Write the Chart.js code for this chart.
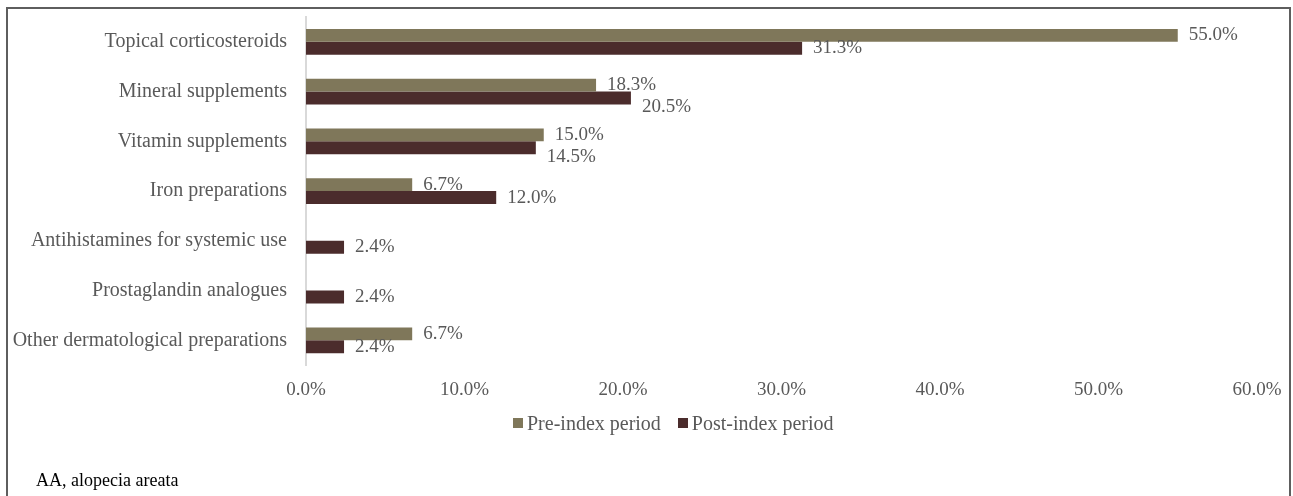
<!DOCTYPE html>
<html>
<head>
<meta charset="utf-8">
<script src="https://cdn.jsdelivr.net/npm/chart.js@4.4.1/dist/chart.umd.min.js"></script>
<style>
  html, body { margin: 0; padding: 0; background: #fff; overflow: hidden; }
  #wrap { position: relative; width: 1293px; height: 496px; }
  #frame {
    position: absolute; left: 6px; top: 7px; width: 1285px; height: 600px;
    border: 2px solid #5e5e5e; box-sizing: border-box;
  }
  #chart { position: absolute; left: 0; top: 0; }
  #legend {
    position: absolute; left: 513px; top: 411px; height: 24px;
    display: flex; align-items: center;
    font: 20px "Liberation Serif", "Times New Roman", serif; color: #595959;
  }
  #legend .item { display: flex; align-items: center; margin-right: 17px; }
  #legend .box { width: 10px; height: 10px; margin-right: 4px; }
  #note {
    position: absolute; left: 36px; top: 470px;
    font: 18px "Liberation Serif", "Times New Roman", serif; color: #000;
  }
</style>
</head>
<body>
<div id="wrap">
  <div id="frame"></div>
  <canvas id="chart" width="1293" height="496"></canvas>
  <div id="legend"></div>
  <div id="note">AA, alopecia areata</div>
</div>
<script>
const categories = [
  'Topical corticosteroids',
  'Mineral supplements',
  'Vitamin supplements',
  'Iron preparations',
  'Antihistamines for systemic use',
  'Prostaglandin analogues',
  'Other dermatological preparations',
];
const preIndex = [55.0, 18.3, 15.0, 6.7, null, null, 6.7];
const postIndex = [31.3, 20.5, 14.5, 12.0, 2.4, 2.4, 2.4];
const xTicks = [0, 10, 20, 30, 40, 50, 60];

const FONT = '"Liberation Serif", "Times New Roman", serif';
const TEXT = '#595959';

// Value labels at the bar ends; post label is nudged down when it would hit the pre label
const valueLabels = {
  id: 'valueLabels',
  afterDatasetsDraw(chart) {
    const ctx = chart.ctx;
    ctx.save();
    ctx.font = '19px ' + FONT;
    ctx.fillStyle = TEXT;
    ctx.textBaseline = 'middle';
    ctx.textAlign = 'left';
    const pre = chart.getDatasetMeta(0).data;
    const post = chart.getDatasetMeta(1).data;
    categories.forEach((c, i) => {
      let preBox = null;
      if (preIndex[i] !== null) {
        const t = preIndex[i].toFixed(1) + '%';
        const x = pre[i].x + 11, y = pre[i].y;
        ctx.fillText(t, x, y);
        preBox = { x0: x, x1: x + ctx.measureText(t).width, y };
      }
      if (postIndex[i] !== null) {
        const t = postIndex[i].toFixed(1) + '%';
        const x = post[i].x + 11;
        let y = post[i].y;
        const w = ctx.measureText(t).width;
        if (preBox && x < preBox.x1 && x + w > preBox.x0 && y - preBox.y < 22) {
          y = preBox.y + 22;
        }
        ctx.fillText(t, x, y);
      }
    });
    ctx.restore();
  },
};

const chart = new Chart(document.getElementById('chart'), {
  type: 'bar',
  data: {
    labels: categories,
    datasets: [
      { label: 'Pre-index period', data: preIndex, backgroundColor: '#7f775a' },
      { label: 'Post-index period', data: postIndex, backgroundColor: '#4b2c2c' },
    ],
  },
  plugins: [valueLabels],
  options: {
    indexAxis: 'y',
    responsive: false,
    animation: false,
    layout: { padding: { top: 17, right: 36, bottom: 90, left: 0 } },
    datasets: { bar: { categoryPercentage: 0.52, barPercentage: 1.0 } },
    plugins: {
      tooltip: { enabled: false },
      legend: { display: false },
    },
    scales: {
      x: {
        min: 0,
        max: 60,
        afterBuildTicks: (scale) => { scale.ticks = xTicks.map(v => ({ value: v })); },
        grid: { display: false },
        border: { display: false },
        ticks: {
          padding: 5,
          color: TEXT,
          font: { family: FONT, size: 19 },
          maxRotation: 0,
          callback: (v) => v.toFixed(1) + '%',
        },
      },
      y: {
        grid: { display: false },
        border: { display: true, color: '#d9d9d9', width: 2 },
        afterFit: (scale) => {
          scale.width = 306;
          scale.paddingTop = 0;
          scale.paddingBottom = 0;
        },
        ticks: {
          padding: 11,
          color: TEXT,
          font: { family: FONT, size: 20 },
        },
      },
    },
  },
});

// Legend built from the chart's datasets
const legendEl = document.getElementById('legend');
chart.data.datasets.forEach(ds => {
  const item = document.createElement('span');
  item.className = 'item';
  const box = document.createElement('span');
  box.className = 'box';
  box.style.background = ds.backgroundColor;
  const label = document.createElement('span');
  label.textContent = ds.label;
  item.append(box, label);
  legendEl.appendChild(item);
});
</script>
</body>
</html>
